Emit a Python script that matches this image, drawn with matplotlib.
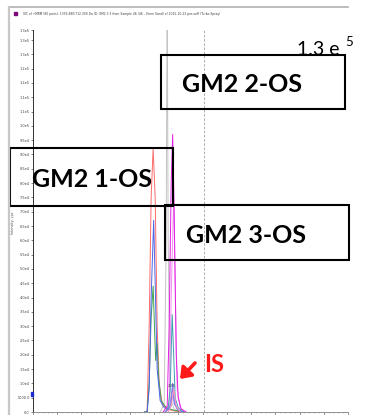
import matplotlib
matplotlib.use("Agg")
import matplotlib.pyplot as plt
from matplotlib.patches import Rectangle
from matplotlib.lines import Line2D

# retention time (min) / intensity (cps)
red_t = [2.300, 2.355, 2.397, 2.438, 2.479, 2.521, 2.562, 2.603, 2.665, 2.769, 2.934, 3.140]
red_i = [0, 0, 30000, 75000, 92000, 75000, 30000, 10000, 3000, 1000, 300, 0]

blue_t = [2.300, 2.355, 2.397, 2.438, 2.490, 2.521, 2.562, 2.624, 2.707, 2.789, 2.851, 2.882, 2.913, 2.996, 3.140]
blue_i = [0, 0, 8000, 40000, 67000, 45000, 15000, 4000, 1500, 800, 3000, 10000, 3000, 500, 0]

green_t = [2.300, 2.355, 2.397, 2.438, 2.479, 2.510, 2.531, 2.562, 2.593, 2.645, 2.727, 2.831, 2.934, 3.140]
green_i = [0, 0, 10000, 33000, 44000, 28000, 18000, 24000, 12000, 4000, 2000, 1000, 500, 0]

teal_t = [2.727, 2.789, 2.831, 2.872, 2.903, 2.934, 2.996, 3.099]
teal_i = [0, 1500, 8000, 34000, 20000, 5000, 1500, 0]

magenta_t = [2.686, 2.769, 2.810, 2.851, 2.882, 2.913, 2.955, 2.996, 3.058, 3.161]
magenta_i = [0, 2000, 30000, 80000, 97000, 70000, 20000, 5000, 1000, 0]

pink_t = [2.748, 2.810, 2.851, 2.903, 2.934, 2.975, 3.037, 3.140]
pink_i = [0, 3000, 40000, 75000, 45000, 8000, 1500, 0]

gray_t = [2.624, 2.707, 2.748, 2.769, 2.789, 2.831, 2.913, 3.037]
gray_i = [0, 3000, 60000, 150000, 60000, 5000, 1000, 0]

is_t = [2.727, 2.810, 2.851, 2.882, 2.913, 2.975, 3.079]
is_i = [0, 1000, 5000, 9000, 4000, 1000, 0]

rose_t = [2.789, 2.851, 2.903, 2.955, 3.037]
rose_i = [0, 2000, 8000, 2000, 0]

traces = [
    (gray_t, gray_i, "#c4c4c4"),
    (red_t, red_i, "#ff6a6a"),
    (green_t, green_i, "#3fa34d"),
    (blue_t, blue_i, "#4b63e6"),
    (pink_t, pink_i, "#f28cf2"),
    (magenta_t, magenta_i, "#e21ee2"),
    (teal_t, teal_i, "#3f9fb0"),
    (is_t, is_i, "#8a7cf0"),
    (rose_t, rose_i, "#ff8fc0"),
]

ytick_vals = [i * 5000 for i in range(27)] + [133500]
ytick_labels = ["0.0", "5000.0", "1.0e4", "1.5e4", "2.0e4", "2.5e4", "3.0e4", "3.5e4",
                "4.0e4", "4.5e4", "5.0e4", "5.5e4", "6.0e4", "6.5e4", "7.0e4", "7.5e4",
                "8.0e4", "8.5e4", "9.0e4", "9.5e4", "1.0e5", "1.1e5", "1.1e5", "1.2e5",
                "1.2e5", "1.3e5", "1.3e5", "1.3e5"]
cursor_time = 3.523
is_label = "2.65"
title = ("XIC of +MRM (80 pairs): 1339.480/712.300 Da ID: GM2 3.3 from Sample 46 "
         "(46 - Vicnn Sand) of 2015-10-23 pos.wiff (Turbo Spray)")

W, H = 378, 415


def fx(x):
    return x / W


def fy(y):
    return 1 - y / H


fig = plt.figure(figsize=(W / 100, H / 100), dpi=100)
fig.patch.set_facecolor("white")
ax = fig.add_axes([fx(33), fy(412), (348 - 33) / W, (412 - 30) / H])

for t, i, c in traces:
    ax.plot(t, i, color=c, lw=0.7)

ax.axvline(cursor_time, color="#a0a0a0", lw=0.6, ls=(0, (3, 2)))
ax.text(2.872, 8500, is_label, fontsize=2.6, ha="center", va="bottom", color="#333333")

ax.set_xlim(0, 6.5)
ax.set_ylim(0, 133500)
ax.set_xticks([k * 0.5 for k in range(14)])
ax.set_xticklabels([])
ax.set_xticks([k * 0.1 for k in range(66)], minor=True)
ax.set_yticks(ytick_vals)
ax.set_yticklabels(ytick_labels)
ax.tick_params(axis="y", labelsize=2.5, length=1.5, width=0.5, pad=0.8,
               colors="#505050", labelcolor="#404040")
ax.tick_params(axis="x", which="major", length=2.5, width=0.5, colors="#707070")
ax.tick_params(axis="x", which="minor", length=1.0, width=0.4, colors="#909090")
for s in ["top", "right"]:
    ax.spines[s].set_visible(False)
ax.spines["left"].set_color("#303030")
ax.spines["left"].set_linewidth(0.7)
ax.spines["bottom"].set_color("#808080")
ax.spines["bottom"].set_linewidth(0.6)

# window frame of the screenshot
fig.add_artist(Line2D([fx(10), fx(348)], [fy(7), fy(7)], color="#b0b0b0", lw=1.2))
fig.add_artist(Line2D([fx(9), fx(9)], [fy(7), fy(415)], color="#c8c8c8", lw=1.6))
fig.add_artist(Rectangle((fx(14), fy(15)), 3 / W, 3 / H, transform=fig.transFigure,
                         color="#7a0a7a"))
fig.text(fx(23), fy(14), title, fontsize=2.2, va="center", ha="left", color="#404040")
fig.text(fx(13), fy(223), "Intensity, cps", fontsize=2.4, rotation=90,
         ha="center", va="center", color="#505050")
fig.add_artist(Rectangle((fx(31), fy(396)), 2 / W, 4 / H, transform=fig.transFigure,
                         color="#1c2bd0"))

# annotation boxes
boxes = [
    ("GM2 2-OS", 161, 55, 345, 109, 242, 92),
    ("GM2 1-OS", 10, 148, 173, 206, 92, 187),
    ("GM2 3-OS", 165, 205, 349, 260, 246, 243),
]
for label, x0, y0, x1, y1, tx, ty in boxes:
    fig.add_artist(Rectangle((fx(x0), fy(y1)), (x1 - x0) / W, (y1 - y0) / H,
                             transform=fig.transFigure, fill=False, ec="black", lw=1.5))
    fig.text(fx(tx), fy(ty), label, fontsize=18, fontweight="bold", family="Lato",
             ha="center", va="baseline", color="black")

fig.text(fx(297), fy(55), "1.3 e", fontsize=14, family="Lato", ha="left", va="baseline")
fig.text(fx(345), fy(46), "5", fontsize=9.5, family="Lato", ha="left", va="baseline")

fig.text(fx(214.5), fy(372), "IS", fontsize=17, fontweight="bold", family="Lato",
         color="#ff1a1a", ha="center", va="baseline")
ax.annotate("", xy=(180, H - 379), xycoords="figure pixels",
            xytext=(195, H - 363), textcoords="figure pixels",
            arrowprops=dict(arrowstyle="-|>,head_length=0.6,head_width=0.45",
                            color="#ff1a1a", lw=2.6, mutation_scale=10,
                            shrinkA=0, shrinkB=0))

fig.savefig("out.png", dpi=100)
